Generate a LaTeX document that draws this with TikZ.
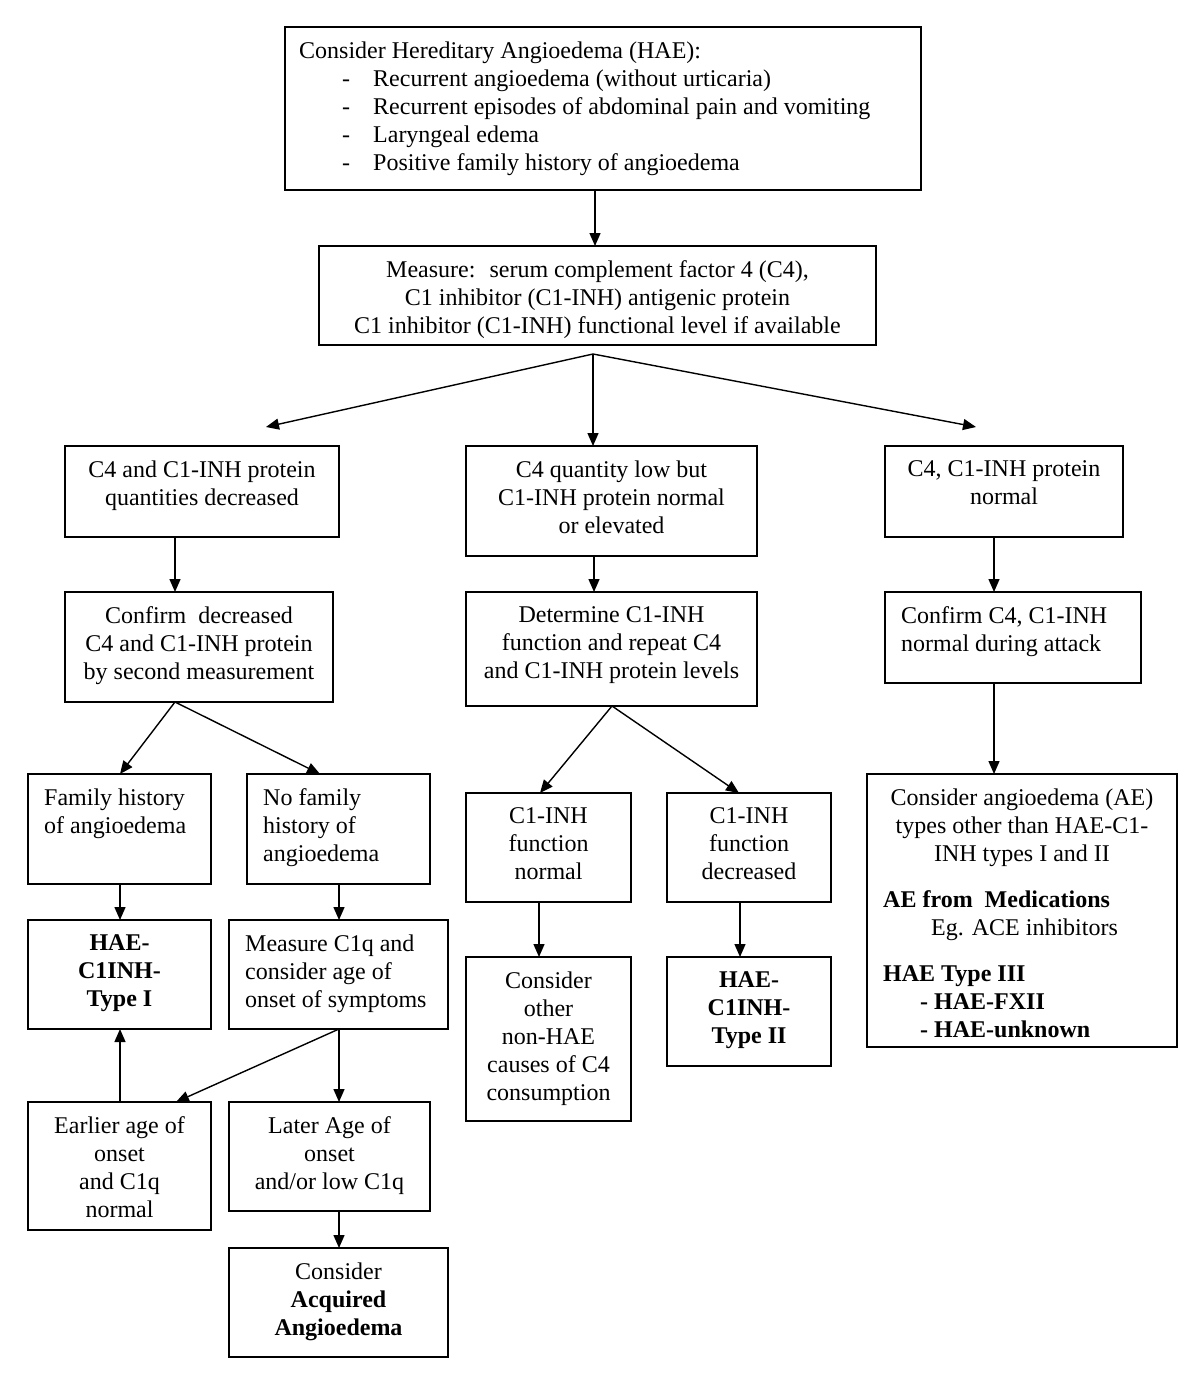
\documentclass[tikz,border=0pt]{standalone}
\usepackage{fontspec}
\setmainfont{Liberation Serif}
\usetikzlibrary{arrows.meta}
\begin{document}
\begin{tikzpicture}[x=1pt,y=-1pt,
  box/.style={draw, line width=1.6pt, inner sep=0pt, outer sep=0pt, anchor=north west},
  txt/.style={inner sep=0pt, font=\fontsize{24}{28}\selectfont, align=center, anchor=north, execute at begin node=\strut},
  ltxt/.style={txt, align=left, anchor=north west},
  arr/.style={line width=1.4pt, -{Triangle[length=13pt,width=11pt]}},
  ln/.style={line width=1.4pt}]
\useasboundingbox (0,0) rectangle (1200,1378);

% boxes
\node[box, minimum width=636pt, minimum height=163pt] (A) at (285,27) {};
\node[box, minimum width=557pt, minimum height=99pt] (B) at (319,246) {};
\node[box, minimum width=274pt, minimum height=91pt] (C1) at (65,446) {};
\node[box, minimum width=291pt, minimum height=110pt] (C2) at (466,446) {};
\node[box, minimum width=238pt, minimum height=91pt] (C3) at (885,446) {};
\node[box, minimum width=268pt, minimum height=110pt] (D1) at (65,592) {};
\node[box, minimum width=291pt, minimum height=114pt] (D2) at (466,592) {};
\node[box, minimum width=256pt, minimum height=91pt] (D3) at (885,592) {};
\node[box, minimum width=183pt, minimum height=110pt] (E1) at (28,774) {};
\node[box, minimum width=183pt, minimum height=110pt] (E2) at (247,774) {};
\node[box, minimum width=165pt, minimum height=109pt] (E3) at (466,793) {};
\node[box, minimum width=164pt, minimum height=109pt] (E4) at (667,793) {};
\node[box, minimum width=310pt, minimum height=273pt] (E5) at (867,774) {};
\node[box, minimum width=183pt, minimum height=109pt] (F1) at (28,920) {};
\node[box, minimum width=219pt, minimum height=109pt] (F2) at (229,920) {};
\node[box, minimum width=165pt, minimum height=164pt] (F3) at (466,957) {};
\node[box, minimum width=164pt, minimum height=109pt] (F4) at (667,957) {};
\node[box, minimum width=183pt, minimum height=128pt] (G1) at (28,1102) {};
\node[box, minimum width=201pt, minimum height=109pt] (G2) at (229,1102) {};
\node[box, minimum width=219pt, minimum height=109pt] (H) at (229,1248) {};

% texts
\node[ltxt] (At) at ([xshift=14pt,yshift=-14.4pt]A.north west) {Consider Hereditary Angioedema (HAE):\\
\makebox[74pt][l]{\hspace*{43pt}-}Recurrent angioedema (without urticaria)\\
\makebox[74pt][l]{\hspace*{43pt}-}Recurrent episodes of abdominal pain and vomiting\\
\makebox[74pt][l]{\hspace*{43pt}-}Laryngeal edema\\
\makebox[74pt][l]{\hspace*{43pt}-}Positive family history of angioedema};
\node[txt] (Bt) at ([yshift=-14.4pt]B.north) {Measure:~ serum complement factor 4 (C4),\\C1 inhibitor (C1-INH) antigenic protein\\C1 inhibitor (C1-INH) functional level if available};
\node[txt] (C1t) at ([yshift=-14.4pt]C1.north) {C4 and C1-INH protein\\quantities decreased};
\node[txt] (C2t) at ([yshift=-14.4pt]C2.north) {C4 quantity low but\\C1-INH protein normal\\or elevated};
\node[txt] (C3t) at ([yshift=-14.4pt]C3.north) {C4, C1-INH protein\\normal};
\node[txt] (D1t) at ([yshift=-14.4pt]D1.north) {Confirm~ decreased\\C4 and C1-INH protein\\by second measurement};
\node[txt] (D2t) at ([yshift=-14.4pt]D2.north) {Determine C1-INH\\function and repeat C4\\and C1-INH protein levels};
\node[ltxt] (D3t) at ([xshift=16pt,yshift=-14.4pt]D3.north west) {Confirm C4, C1-INH\\normal during attack};
\node[ltxt] (E1t) at ([xshift=16pt,yshift=-14.4pt]E1.north west) {Family history\\of angioedema};
\node[ltxt] (E2t) at ([xshift=16pt,yshift=-14.4pt]E2.north west) {No family\\history of\\angioedema};
\node[txt] (E3t) at ([yshift=-14.4pt]E3.north) {C1-INH\\function\\normal};
\node[txt] (E4t) at ([yshift=-14.4pt]E4.north) {C1-INH\\function\\decreased};
\node[txt] (E5t) at ([yshift=-14.4pt]E5.north) {Consider angioedema (AE)\\types other than HAE-C1-\\INH types I and II};
\node[ltxt] (E5b) at ([xshift=16pt,yshift=-116.4pt]E5.north west) {\textbf{AE from~ Medications}\\
\hspace*{48pt}Eg. ACE inhibitors\\[18pt]
\textbf{HAE Type III}\\
\hspace*{37pt}\textbf{- HAE-FXII}\\
\hspace*{37pt}\textbf{- HAE-unknown}};
\node[txt, font=\fontsize{24}{28}\selectfont\bfseries] (F1t) at ([yshift=-14.4pt]F1.north) {HAE-\\C1INH-\\Type I};
\node[ltxt] (F2t) at ([xshift=16pt,yshift=-14.4pt]F2.north west) {Measure C1q and\\consider age of\\onset of symptoms};
\node[txt] (F3t) at ([yshift=-14.4pt]F3.north) {Consider\\other\\non-HAE\\causes of C4\\consumption};
\node[txt, font=\fontsize{24}{28}\selectfont\bfseries] (F4t) at ([yshift=-14.4pt]F4.north) {HAE-\\C1INH-\\Type II};
\node[txt] (G1t) at ([yshift=-14.4pt]G1.north) {Earlier age of\\onset\\and C1q\\normal};
\node[txt] (G2t) at ([yshift=-14.4pt]G2.north) {Later Age of\\onset\\and/or low C1q};
\node[txt] (Ht) at ([yshift=-14.4pt]H.north) {Consider\\\textbf{Acquired}\\\textbf{Angioedema}};

% connectors
\draw[arr] ([xshift=310pt]A.south west) -- ([xshift=276pt]B.north west);
\coordinate (pB) at ([xshift=274pt,yshift=-9pt]B.south west);
\coordinate (tl) at (266,427);
\coordinate (tr) at (976,427);
\draw[arr] (pB) -- (tl);
\draw[arr] (pB) -- (tr);
\draw[arr] (pB) -- ([xshift=127pt]C2.north west);

\draw[arr] ([xshift=110pt]C1.south west) -- ([xshift=110pt]D1.north west);
\draw[arr] ([xshift=128pt]C2.south west) -- ([xshift=128pt]D2.north west);
\draw[arr] ([xshift=109pt]C3.south west) -- ([xshift=109pt]D3.north west);
\draw[arr] ([xshift=109pt]D3.south west) -- ([xshift=127pt]E5.north west);

\draw[arr] ([xshift=110pt]D1.south west) -- ([xshift=92pt]E1.north west);
\draw[arr] ([xshift=110pt]D1.south west) -- ([xshift=73pt]E2.north west);
\draw[arr] ([xshift=146pt]D2.south west) -- ([xshift=74pt]E3.north west);
\draw[arr] ([xshift=146pt]D2.south west) -- ([xshift=72pt]E4.north west);

\draw[arr] ([xshift=92pt]E1.south west) -- ([xshift=92pt]F1.north west);
\draw[arr] ([xshift=92pt]E2.south west) -- ([xshift=110pt]F2.north west);
\draw[arr] ([xshift=73pt]E3.south west) -- ([xshift=73pt]F3.north west);
\draw[arr] ([xshift=73pt]E4.south west) -- ([xshift=73pt]F4.north west);

\draw[arr] ([xshift=110pt]F2.south west) -- ([xshift=110pt]G2.north west);
\draw[arr] ([xshift=110pt]F2.south west) -- ([xshift=148pt]G1.north west);
\draw[arr] ([xshift=92pt]G1.north west) -- ([xshift=92pt]F1.south west);
\draw[arr] ([xshift=110pt]G2.south west) -- ([xshift=110pt]H.north west);
\end{tikzpicture}
\end{document}
